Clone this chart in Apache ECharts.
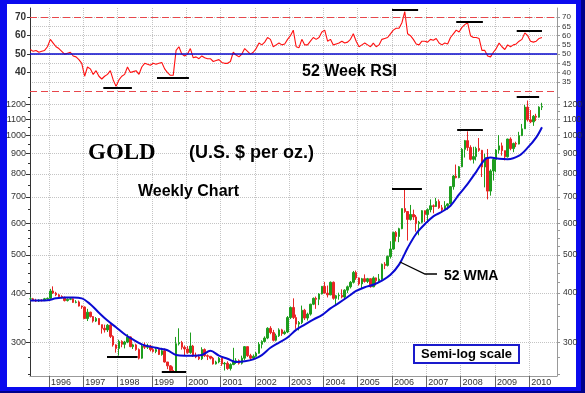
<!DOCTYPE html>
<html><head><meta charset="utf-8">
<script src="https://cdn.jsdelivr.net/npm/echarts@6/dist/echarts.min.js"></script>
<style>
html,body{margin:0;padding:0;background:#fff;}
#frame{position:relative;width:585px;height:393px;background:#0a0aee;overflow:hidden;}
#inner{position:absolute;left:7px;top:4px;width:569px;height:383px;background:#fff;}
#shadowR{position:absolute;left:581px;top:0;width:4px;height:393px;background:#00008a;}
#shadowB{position:absolute;left:0;top:391px;width:585px;height:2px;background:#00008a;}
#chart{position:absolute;left:0;top:0;width:585px;height:393px;}
</style></head>
<body><div id="frame"><div id="inner"></div><div id="shadowR"></div><div id="shadowB"></div><div id="chart"></div></div>
<script>
// ---- monthly gold candles, Jun 1995 .. May 2010 ----
const firstMonth = '1995-06';
const openPx = [
 387,387,383,382,384,383,387,
 388,405,400,396,392,390,383,386,387,379,380,371,
 369,345,358,349,340,345,333,326,323,332,311,296,
 290,302,297,301,310,293,296,288,274,294,292,294,
 288,285,288,280,286,268,262,255,254,298,300,292,
 289,283,294,278,276,273,288,278,277,274,265,268,
 274,265,266,258,264,268,270,266,274,293,278,274,
 277,282,297,302,308,326,318,304,312,323,316,319,
 347,368,347,334,337,362,346,354,375,388,386,398,
 416,400,396,426,388,394,395,391,407,415,426,451,
 437,422,435,428,435,415,437,430,434,473,470,495,
 517,569,556,582,654,643,614,632,623,599,604,646,
 632,650,665,662,682,657,650,665,672,743,790,783,
 834,923,971,933,871,885,928,918,833,880,724,814,
 870,919,942,916,884,980,927,955,952,1000,1040,1180,
 1096,1083,1119,1113,1180];
const closePx = [
 387,383,382,384,383,387,388,
 405,400,396,392,390,383,386,387,379,380,371,369,
 345,358,349,340,345,333,326,323,332,311,296,290,
 302,297,301,310,293,296,288,274,294,292,294,288,
 285,288,280,286,268,262,255,254,298,300,292,289,
 283,294,278,276,273,288,278,277,274,265,268,274,
 265,266,258,264,268,270,266,274,293,278,274,277,
 282,297,302,308,326,318,304,312,323,316,319,347,
 368,347,334,337,362,346,354,375,388,386,398,416,
 400,396,426,388,394,395,391,407,415,426,451,437,
 422,435,428,435,415,437,430,434,473,470,495,517,
 569,556,582,654,643,614,632,623,599,604,646,632,
 650,665,662,682,657,650,665,672,743,790,783,834,
 923,971,933,871,885,928,918,833,880,724,814,870,
 919,942,916,884,980,927,955,952,1000,1040,1180,1096,
 1083,1119,1113,1180,1185];
const lowPx = [
 385,382,380,380,381,382,385,
 387,398,393,390,388,381,381,384,378,377,370,365,
 345,340,347,337,338,333,316,318,319,308,293,283,
 278,292,290,299,292,289,286,272,273,289,289,285,
 283,282,279,278,267,257,253,252,253,295,288,278,
 281,281,276,274,271,271,276,271,272,264,264,266,
 262,255,256,255,263,265,264,264,271,276,270,272,
 276,281,290,300,306,315,302,302,310,312,314,317,
 344,344,325,322,334,342,341,351,373,365,373,397,
 399,390,395,385,373,385,388,387,400,411,423,432,
 418,411,425,424,413,414,418,426,432,460,467,489,
 515,540,538,580,638,543,610,612,572,560,600,605,
 603,640,636,660,653,640,648,650,670,730,780,780,
 832,880,915,865,850,865,910,786,740,690,705,770,
 808,900,890,866,880,918,908,935,950,997,1040,1085,
 1075,1058,1088,1110,1160];
const highPx = [
 391,389,387,386,386,389,390,
 410,416,403,398,395,392,388,390,388,384,383,372,
 370,365,359,350,348,346,333,333,334,334,313,297,
 305,304,303,315,311,298,298,290,298,300,298,296,
 292,291,290,291,290,268,263,261,310,326,303,295,
 294,318,296,283,280,292,290,280,277,276,270,276,
 275,268,269,266,291,274,272,278,294,293,281,280,
 284,301,304,311,328,330,323,316,326,325,322,350,
 370,388,353,340,372,365,357,376,390,392,400,417,
 427,418,428,428,396,401,409,409,418,429,455,456,
 438,437,446,437,436,441,438,447,475,479,498,541,
 572,574,585,654,730,644,668,650,630,609,648,647,
 655,690,670,696,690,668,683,675,745,795,845,838,
 930,975,1025,945,937,937,986,920,900,925,822,880,
 925,1003,960,915,982,990,960,965,1022,1070,1195,1226,
 1160,1127,1135,1186,1210];
// ---- 52 week RSI (monthly readings) ----
const rsiVals = [
 52.5,51.5,52,51,51.5,52,54,
 58,56,54,53,51.5,50,50.5,51,49,48.5,47,45,
 38,43,42,39,41,38,36.5,38,39,41,36,32.5,
 36,38,39,43,40,40.5,41,39,43,45,44.5,44,
 45,44.5,45,45.5,42,40,38.5,38.5,52,54,50,49,
 50,53,48,48.5,47.5,49,48,47.5,47.5,46,46.5,47,
 45.5,45,45,46,51,49.5,48.5,50,53,51.5,50,51,
 53,56,55,56.5,59,58,54,55,56,55,55.5,58,
 60,63,54,53.5,58,55,55,57,59,58,59,62,
 63,57,58,55,55.5,56,57,56,56.5,58,61,57,
 54,55,56,55,54,56,54,55,58,58.5,59,61,
 63,64,64,67,73,61,60,58,55.5,55,57,57,
 56.5,58,57.5,58.5,56,55,56,55.5,59,61,63,62,
 64.5,66,67,60,59,59,58.5,52,52,49,48.5,51,
 53,56,54,52.5,55,54,55,55.5,57,58,61.5,60,
 57,56.5,57,58.5,59];
// ---- 52 week weighted moving average ----
const wmaDates = ['1995-06-15','1995-12-15','1996-03-15','1996-06-15','1996-09-15','1996-12-15',
 '1997-03-15','1997-06-15','1997-09-15','1997-12-15','1998-03-15','1998-06-15','1998-09-15','1998-12-15',
 '1999-03-15','1999-06-15','1999-09-15','1999-12-15','2000-03-15','2000-06-15','2000-09-15','2000-12-15',
 '2001-03-15','2001-06-15','2001-09-15','2001-12-15','2002-03-15','2002-06-15','2002-09-15','2002-12-15',
 '2003-03-15','2003-06-15','2003-09-15','2003-12-15','2004-03-15','2004-06-15','2004-09-15','2004-12-15',
 '2005-03-15','2005-06-15','2005-09-15','2005-12-15','2006-03-15','2006-06-15','2006-09-15','2006-12-15',
 '2007-03-15','2007-06-15','2007-09-15','2007-12-15','2008-03-15','2008-06-15','2008-09-15','2008-11-15',
 '2009-02-15','2009-05-15','2009-09-15','2009-12-15','2010-03-15','2010-05-15'];
const wmaVals = [383,384,388,390,390,388,
 375,357,341,328,315,305,297,293,
 290,287,279,278,278,279,286,278,
 273,268,269,272,279,291,300,309,
 323,333,343,352,366,378,391,405,
 414,420,430,445,472,520,565,597,
 625,642,665,710,755,810,870,880,
 874,872,890,932,990,1050];
// ---- axis ticks / labels ----
const yearTicks = [1996,1997,1998,1999,2000,2001,2002,2003,2004,2005,2006,2007,2008,2009,2010];
const priceLabels = [300,400,500,600,700,800,900,1000,1100,1200];
const priceMinorTicks = [250,275,300,325,350,375,400,425,450,475,500,525,550,575,600,650,700,750,800,850,900,950,1000,1050,1100,1150,1200,1250];
const rsiLeftLabels = [40,50,60,70];
const rsiRightLabels = [35,40,45,50,55,60,65,70];
// ---- horizontal top/bottom markers ----
const priceMarks = [['1997-09-10','1998-08-01',276],['1999-04-15','1999-12-31',253],['2006-01-01','2006-11-15',733],['2007-11-25','2008-08-25',1037],['2009-08-20','2010-04-15',1250]];
const rsiMarks = [['1997-08-01','1998-06-01',31.5],['1999-02-25','2000-01-30',37.4],['2006-01-01','2006-10-05',73.8],['2007-11-15','2008-08-25',67.8],['2009-08-20','2010-05-15',62.6]];

// date string -> decimal year
function toYear(s){ const p = s.split('-').map(Number); return p[0] + (p[1]-1)/12 + ((p[2]||15)-1)/365; }
const monthX = [];
{
  const y0 = +firstMonth.slice(0,4), m0 = +firstMonth.slice(5,7) - 1;
  for (let i = 0; i < closePx.length; i++) {
    const m = m0 + i;
    const y = y0 + Math.floor(m / 12), mm = (m % 12) + 1;
    monthX.push(toYear(y + '-' + mm + '-15'));
  }
}
const candleData = monthX.map((x,i)=>[x, openPx[i], closePx[i], lowPx[i], highPx[i]]);
const rsiData = monthX.map((x,i)=>[x, rsiVals[i]]);
const wmaData = wmaDates.map((d,i)=>[toYear(d), wmaVals[i]]);

const fSans = '"Liberation Sans", Arial, sans-serif';
const fNarrow = '"Liberation Sans Narrow", "Arial Narrow", "Liberation Sans", sans-serif';
const xMin = 1995.446, xMax = 2010.81;
const dotted = {show:true, lineStyle:{color:'#c4c4c4', type:'dotted', width:1}};
const intFmt = v => String(Math.round(v));
const txt = (x, y, text, font, align) => ({type:'text', x:x, y:y, z:100,
  style:{text:text, font:font, fill:'#000', stroke:'transparent', lineWidth:0,
    textAlign:align||'left', textVerticalAlign:'middle', align:align||'left', verticalAlign:'middle'}});

const chart = echarts.init(document.getElementById('chart'), null, {renderer:'canvas'});
chart.setOption({
  animation:false,
  backgroundColor:'transparent',
  grid:[
    {left:30, right:28, top:8, height:83},
    {left:30, right:28, top:91, height:285}
  ],
  xAxis:[
    {type:'value', gridIndex:0, min:xMin, max:xMax,
     axisLine:{show:false}, axisTick:{show:false, customValues:yearTicks}, axisLabel:{show:false, customValues:yearTicks},
     splitLine:dotted},
    {type:'value', gridIndex:1, min:xMin, max:xMax,
     axisLine:{show:true, onZero:false, lineStyle:{color:'#9a9a9a'}},
     axisTick:{show:true, customValues:yearTicks, length:11, lineStyle:{color:'#666'}},
     axisLabel:{customValues:yearTicks, formatter:intFmt, align:'left', margin:2,
       padding:[0,0,0,2], fontSize:9, color:'#333', fontFamily:fNarrow},
     splitLine:dotted}
  ],
  yAxis:[
    {type:'value', gridIndex:0, min:30, max:75, interval:10, position:'left',
     axisLine:{show:true, onZero:false, lineStyle:{color:'#333'}}, axisTick:{show:true, length:3, customValues:rsiLeftLabels},
     axisLabel:{customValues:rsiLeftLabels, formatter:intFmt, fontSize:10, fontWeight:'bold', color:'#333', fontFamily:fSans, margin:4},
     splitLine:{show:false}},
    {type:'value', gridIndex:0, min:30, max:75, interval:5, position:'right',
     axisLine:{show:true, onZero:false, lineStyle:{color:'#999'}}, axisTick:{show:true, length:3, customValues:rsiRightLabels},
     axisLabel:{customValues:rsiRightLabels, formatter:intFmt, fontSize:8, color:'#333', fontFamily:fNarrow, margin:5},
     splitLine:dotted},
    {type:'log', gridIndex:1, min:247, max:1296, logBase:10, position:'left',
     axisLine:{show:true, onZero:false, lineStyle:{color:'#333'}}, axisTick:{show:true, length:4, customValues:priceLabels},
     axisLabel:{customValues:priceLabels, formatter:intFmt, fontSize:9, color:'#333', fontFamily:fSans, margin:4},
     splitLine:dotted},
    {type:'log', gridIndex:1, min:247, max:1296, logBase:10, position:'right',
     axisLine:{show:true, onZero:false, lineStyle:{color:'#999'}}, axisTick:{show:true, length:3, customValues:priceMinorTicks},
     axisLabel:{customValues:priceLabels, formatter:intFmt, fontSize:8.5, color:'#333', fontFamily:fNarrow, margin:6},
     splitLine:{show:false}},
    {type:'log', gridIndex:1, min:247, max:1296, logBase:10, position:'left',
     axisLine:{show:false}, axisTick:{show:true, length:2, customValues:priceMinorTicks, lineStyle:{color:'#333'}},
     axisLabel:{show:false}, splitLine:{show:false}}
  ],
  series:[
    {type:'line', name:'RSI', xAxisIndex:0, yAxisIndex:0, data:rsiData, showSymbol:false,
     lineStyle:{color:'#ff1010', width:1.1}, itemStyle:{color:'#ff1010'}, z:3,
     markLine:{silent:true, symbol:'none', label:{show:false}, animation:false,
       data:[
         {yAxis:70, lineStyle:{color:'#e8464b', type:[7,4], width:1.2}},
         {yAxis:30, lineStyle:{color:'#e8464b', type:[7,4], width:1.2}},
         {yAxis:50, lineStyle:{color:'#0a0acc', type:'solid', width:1.5}}
       ].concat(rsiMarks.map(m=>[{coord:[toYear(m[0]),m[2]], lineStyle:{color:'#000', width:2, type:'solid'}},{coord:[toYear(m[1]),m[2]]}]))
     }},
    {type:'candlestick', name:'Gold', xAxisIndex:1, yAxisIndex:2, data:candleData, barWidth:2,
     itemStyle:{color:'#1e9e1e', color0:'#e82525', borderColor:'#1e9e1e', borderColor0:'#e82525', borderWidth:1},
     markLine:{silent:true, symbol:'none', label:{show:false}, animation:false,
       data: priceMarks.map(m=>[{coord:[toYear(m[0]),m[2]], lineStyle:{color:'#000', width:2, type:'solid'}},{coord:[toYear(m[1]),m[2]]}])
     }},
    {type:'line', name:'52 WMA', xAxisIndex:1, yAxisIndex:2, data:wmaData, showSymbol:false, smooth:0.35,
     lineStyle:{color:'#0a0ad2', width:2}, itemStyle:{color:'#0a0ad2'}, z:4}
  ],
  graphic:[
    txt(88, 153, 'GOLD', 'bold 23px "Liberation Serif", "Times New Roman", serif'),
    txt(189, 153, '(U.S. $ per oz.)', 'bold 18px '+fSans),
    txt(138, 192, 'Weekly Chart', 'bold 16px '+fSans),
    txt(302, 72, '52 Week RSI', 'bold 16px '+fSans),
    {type:'polyline', z:100, shape:{points:[[400,262],[425,274],[437,274]]}, style:{stroke:'#000', lineWidth:1.3, fill:null}},
    txt(444, 276, '52 WMA', 'bold 14px '+fSans),
    {type:'rect', z:99, shape:{x:414, y:345, width:105, height:18}, style:{fill:'#fff', stroke:'#1a1acc', lineWidth:2}},
    txt(466.5, 354.5, 'Semi-log scale', 'bold 13px '+fSans, 'center')
  ]
});
</script>
</body></html>
